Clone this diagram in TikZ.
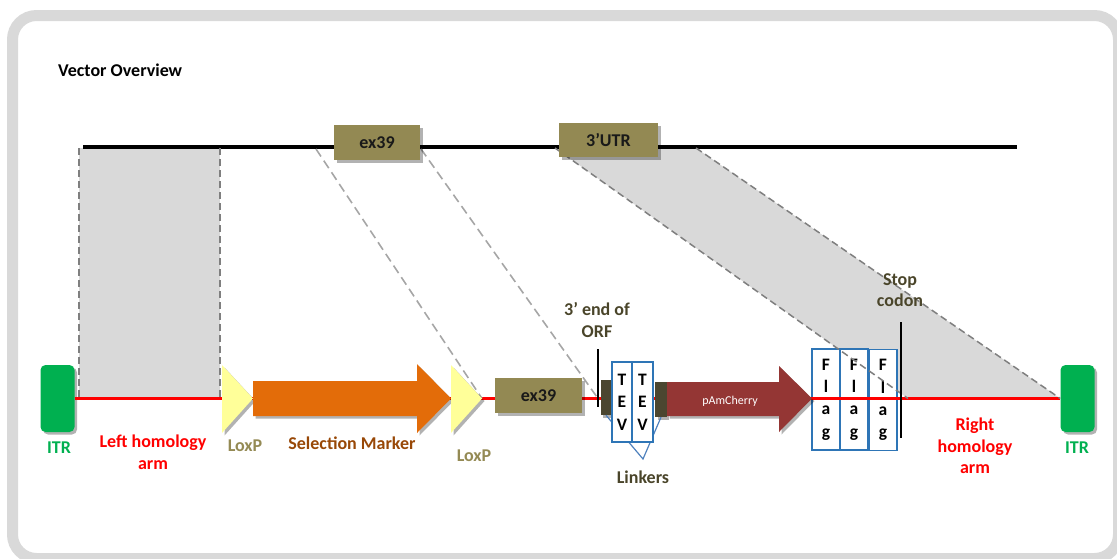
\documentclass[tikz,border=0pt]{standalone}
\usepackage{fontspec}
\setmainfont{Carlito}
\usetikzlibrary{shadows}
\definecolor{framegray}{HTML}{D9D9D9}
\definecolor{shadegray}{HTML}{D9D9D9}
\definecolor{dashdark}{HTML}{7F7F7F}
\definecolor{dashlight}{HTML}{A6A6A6}
\definecolor{olivebox}{HTML}{938953}
\definecolor{olivetext}{HTML}{948A54}
\definecolor{darkolive}{HTML}{4A452A}
\definecolor{linkerdark}{HTML}{4B4630}
\definecolor{itrgreen}{HTML}{00B050}
\definecolor{selorange}{HTML}{E36C09}
\definecolor{selbrown}{HTML}{984807}
\definecolor{loxyellow}{HTML}{FFFF99}
\definecolor{cherry}{HTML}{943634}
\definecolor{boxblue}{HTML}{2E75B6}
\definecolor{callblue}{HTML}{4F81BD}
\tikzset{
  softshadow/.style={drop shadow={shadow xshift=2.5pt, shadow yshift=-2.5pt, opacity=0.3, fill=black}},
  lab/.style={font=\fontsize{18}{21.5}\selectfont\bfseries, align=center, inner sep=0pt},
  itrbox/.style={fill=itrgreen, rounded corners=5pt, minimum width=34pt, minimum height=67pt, inner sep=0pt, softshadow},
  exonbox/.style={fill=olivebox, inner sep=0pt, font=\fontsize{18}{20}\selectfont\bfseries, text=black!90, softshadow},
  linkerbox/.style={fill=linkerdark, inner sep=0pt, minimum width=11.5pt, minimum height=35pt, softshadow},
  tevbox/.style={draw=boxblue, line width=1.8pt, fill=white, inner sep=0pt, minimum width=20.5pt, minimum height=80pt, align=center, font=\fontsize{17.5}{22.5}\selectfont\bfseries},
  flagbox/.style={draw=boxblue, line width=1.8pt, fill=white, inner sep=0pt, minimum width=28pt, minimum height=101pt, align=center, font=\fontsize{17.5}{22.3}\selectfont\bfseries},
  dashedgray/.style={draw=dashdark, line width=1.5pt, dash pattern=on 7pt off 4pt},
  dashedlight/.style={draw=dashlight, line width=1.6pt, dash pattern=on 9pt off 5pt},
  markerline/.style={draw=black, line width=2.8pt}
}
\begin{document}
\begin{tikzpicture}[x=1pt,y=-1pt]
\useasboundingbox (0,0) rectangle (1117,558);
% frame
\begin{scope}
\clip (0,0) rectangle (1117,558);
\draw[line width=11pt, framegray, rounded corners=24pt] (12.5,15.5) rectangle (1118.5,558.5);
\end{scope}
\node[lab, anchor=west, font=\fontsize{18}{20}\selectfont\bfseries] (title) at (58,70) {Vector Overview};

% ITRs
\node[itrbox] (itrL) at (57.5,398.5) {};
\node[itrbox] (itrR) at (1077.5,398.5) {};

% coordinates
\coordinate (topL) at (83,147);
\coordinate (topR) at (1017,147);
\coordinate (lhaTL) at (79,148);
\coordinate (lhaTR) at (220,148);
\coordinate (lhaBL) at (79,398.5);
\coordinate (lhaBR) at (220,398.5);
\coordinate (exTL) at (316,149);
\coordinate (exTR) at (421,149);
\coordinate (loxTip) at (482,398.5);
\coordinate (orfTop) at (598,349);
\coordinate (orfBot) at (598,407);
\coordinate (orfMid) at (598,398.5);
\coordinate (utrTL) at (555,148);
\coordinate (utrTR) at (696,148);
\coordinate (utrBL) at (908,398.5);
\coordinate (stopTop) at (901,322);
\coordinate (stopBot) at (901,438);
\coordinate (linkpt) at (643,459);

% gray homology areas
\fill[shadegray] (lhaTL) rectangle (lhaBR);
\fill[shadegray] (utrTL) -- (utrTR) -- (itrR.west) -- (utrBL) -- cycle;

% top genomic line
\draw[line width=3.5pt] (topL) -- (topR);

% flag boxes (under red line)
\node[flagbox] (fl1) at (826,399.5) {F\\l\\a\\g};
\node[flagbox] (fl2) at (854,399.5) {F\\l\\a\\g};
\node[flagbox] (fl3) at (883,400) {F\\l\\a\\g};

% red vector line
\draw[red, line width=3pt] (itrL.east) -- (itrR.west);

% dashed mapping lines
\draw[dashedgray] (lhaTL) -- (lhaBL);
\draw[dashedgray] (lhaTR) -- (lhaBR);
\draw[dashedlight] (exTL) -- (loxTip);
\draw[dashedlight] (exTR) -- (orfMid);
\draw[dashedgray] (utrTL) -- (utrBL);
\draw[dashedgray] (utrTR) -- (itrR.west);

% top boxes
\node[exonbox, minimum width=86pt, minimum height=35pt] (ex39top) at (377,142.5) {ex39};
\node[exonbox, minimum width=99pt, minimum height=34pt] (utr) at (608.5,140) {3’UTR};

% LoxP and selection marker
\fill[loxyellow, softshadow] (222,365) -- (253,398.5) -- (222,433) -- cycle;
\fill[selorange, softshadow] (253,381) -- (417,381) -- (417,364) -- (451,398.5) -- (417,433) -- (417,416) -- (253,416) -- cycle;
\fill[loxyellow, softshadow] (451,365) -- (loxTip) -- (451,433) -- cycle;

% lower exon
\node[exonbox, minimum width=87pt, minimum height=35pt] (exbot) at (538.5,395.5) {ex39};

% 3' end of ORF marker
\draw[markerline] (orfTop) -- (orfBot);

% linkers and TEV
\node[linkerbox, minimum width=11pt] (lk1) at (606,397.5) {};
\node[linkerbox] (lk2) at (661,399.5) {};
\draw[callblue, line width=1.2pt] (lk1.south) -- (linkpt) -- (lk2.south);
\node[tevbox] (tev1) at (622,402) {T\\E\\V};
\node[tevbox] (tev2) at (642.5,402) {T\\E\\V};

% pAmCherry
\fill[cherry, softshadow] (667,382) -- (779,382) -- (779,366) -- (812,398.5) -- (779,432) -- (779,416) -- (667,416) -- cycle;
\node[text=white, font=\fontsize{12}{14}\selectfont, inner sep=0pt] (pam) at (730,401) {pAmCherry};

% stop codon
\draw[markerline] (stopTop) -- (stopBot);

% labels
\node[lab, text=itrgreen] (itrLlab) at (59,448) {ITR};
\node[lab, text=itrgreen] (itrRlab) at (1077,448) {ITR};
\node[lab, text=red] (lhalab) at (153,452) {Left homology\\arm};
\node[lab, text=olivetext] (lox1lab) at (245,446) {LoxP};
\node[lab, text=selbrown] (sellab) at (352,443) {Selection Marker};
\node[lab, text=olivetext] (lox2lab) at (474,456) {LoxP};
\node[lab, text=darkolive] (orflab) at (597,320) {3’ end of\\ORF};
\node[lab, text=darkolive] (linklab) at (643,477) {Linkers};
\node[lab, text=darkolive] (stoplab) at (900,290) {Stop\\codon};
\node[lab, text=red] (rhalab) at (975,446) {Right\\homology\\arm};
\end{tikzpicture}
\end{document}
